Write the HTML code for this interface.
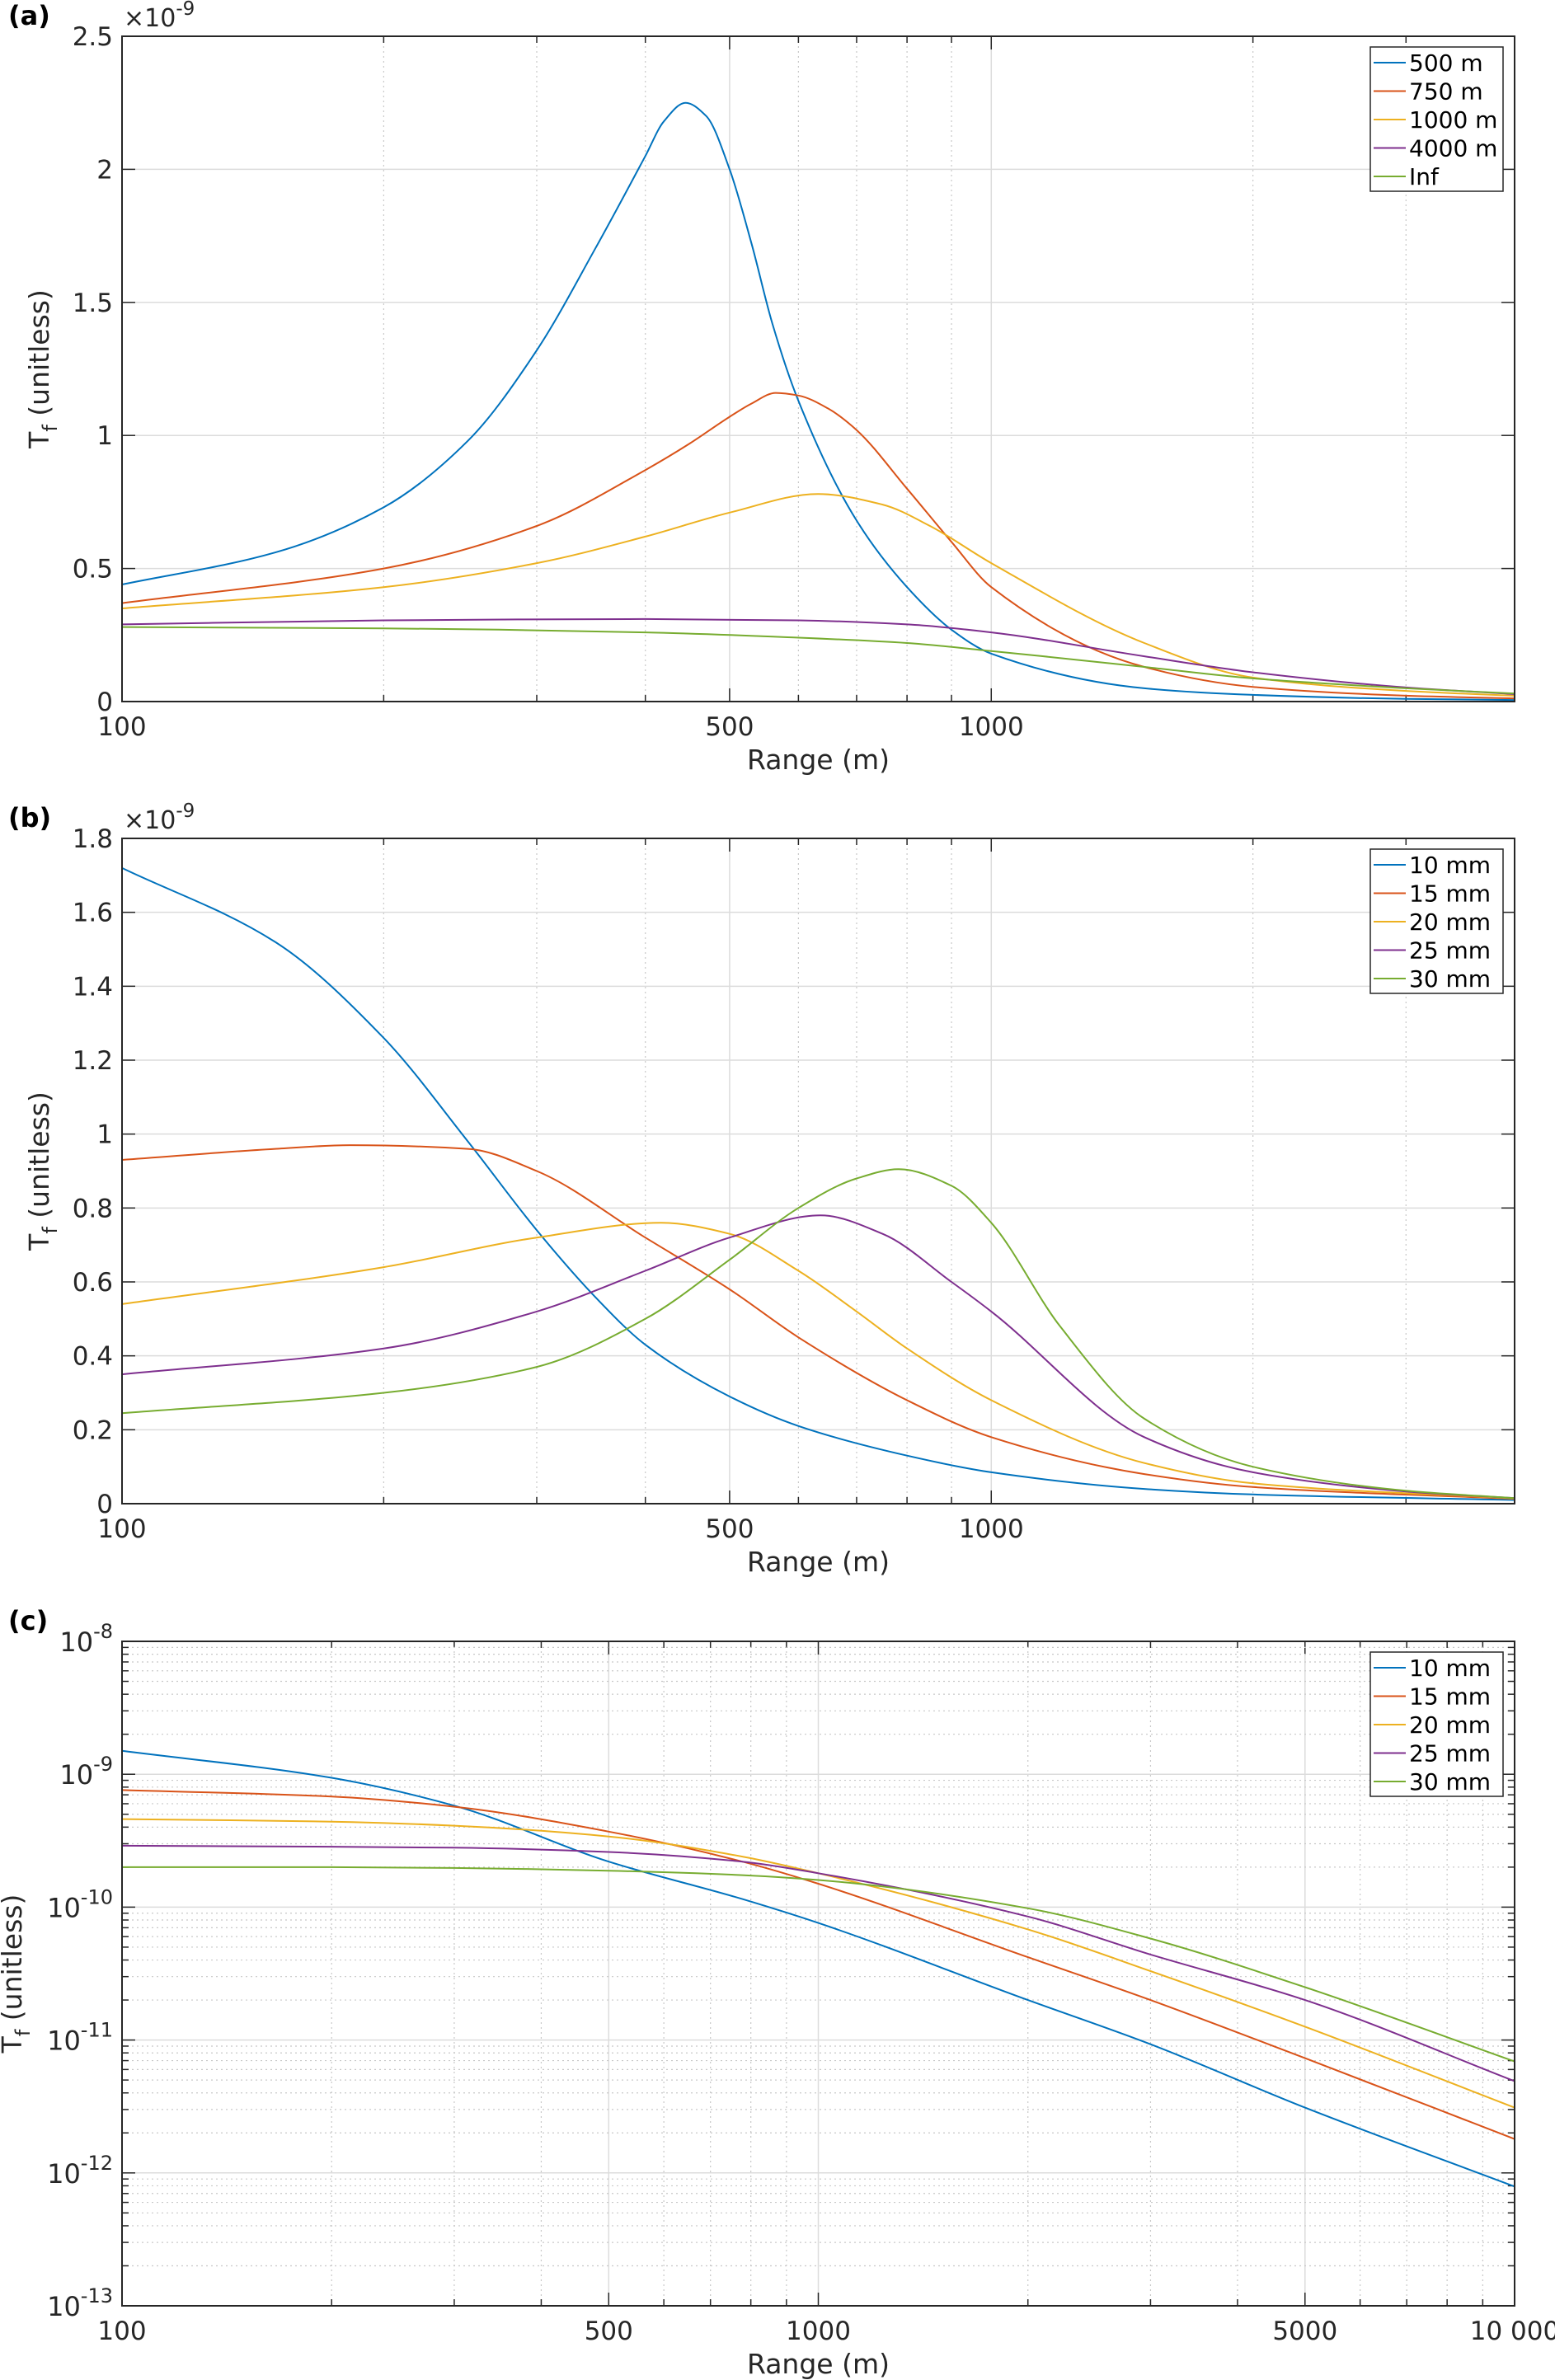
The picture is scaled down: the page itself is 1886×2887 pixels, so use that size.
<!DOCTYPE html>
<html><head><meta charset="utf-8"><style>
html,body{margin:0;padding:0;background:#fff;}
svg{display:block;font-family:"DejaVu Sans","Liberation Sans",sans-serif;}
</style></head><body>
<svg id="fig" width="1886" height="2887" viewBox="0 0 1886 2887" xmlns="http://www.w3.org/2000/svg"></svg>
<script>
// ---------- data ----------
const aRanges500=[100,150,200,250,300,350,400,420,445,470,500,530,560,600,700,800,900,1000,1500,2000,3000,4000];
const aVals500=[0.44,0.56,0.73,0.98,1.32,1.70,2.05,2.18,2.25,2.2,2.0,1.72,1.42,1.13,0.68,0.43,0.27,0.18,0.05,0.025,0.01,0.006];
const aRanges750=[100,200,300,400,450,500,530,565,600,650,700,800,900,1000,1500,2000,3000,4000];
const aVals750=[0.37,0.5,0.66,0.87,0.97,1.07,1.12,1.16,1.15,1.1,1.02,0.8,0.6,0.43,0.13,0.055,0.022,0.012];
const aRanges1000=[100,200,300,400,500,632,750,850,1000,1500,2000,3000,4000];
const aVals1000=[0.35,0.43,0.52,0.62,0.71,0.78,0.74,0.66,0.52,0.22,0.09,0.04,0.022];
const aRanges4000=[100,200,400,600,800,1000,1500,2000,3000,4000];
const aVals4000=[0.29,0.305,0.31,0.305,0.29,0.26,0.17,0.11,0.053,0.028];
const aRangesInf=[100,200,400,600,800,1000,1500,2000,3000,4000];
const aValsInf=[0.28,0.275,0.26,0.24,0.22,0.19,0.13,0.087,0.05,0.03];

const bRanges10=[100,150,200,250,300,350,400,500,600,800,1000,1500,2000,4000];
const bVals10=[1.72,1.52,1.26,0.98,0.74,0.56,0.43,0.29,0.21,0.13,0.085,0.04,0.025,0.01];
const bRanges15=[100,150,183,250,300,400,500,600,800,1000,1500,2000,4000];
const bVals15=[0.93,0.96,0.97,0.96,0.9,0.72,0.58,0.45,0.28,0.18,0.08,0.045,0.013];
const bRanges20=[100,200,300,417,500,600,700,800,1000,1500,2000,4000];
const bVals20=[0.54,0.64,0.72,0.76,0.73,0.63,0.52,0.42,0.28,0.11,0.055,0.014];
const bRanges25=[100,200,300,400,500,636,750,900,1000,1500,2000,3000,4000];
const bVals25=[0.35,0.42,0.52,0.63,0.72,0.78,0.73,0.6,0.52,0.18,0.085,0.033,0.015];
const bRanges30=[100,200,300,400,500,600,700,782,900,1000,1200,1500,2000,3000,4000];
const bVals30=[0.245,0.3,0.37,0.5,0.66,0.8,0.88,0.905,0.86,0.76,0.48,0.23,0.1,0.035,0.015];

const cRanges=[100,200,300,500,778,1000,2000,3000,5000,10000];
const cVals10=[1.5e-9,9.4e-10,5.8e-10,2.2e-10,1.15e-10,7.6e-11,2.0e-11,9.3e-12,3.1e-12,7.9e-13];
const cVals15=[7.6e-10,6.8e-10,5.7e-10,3.7e-10,2.2e-10,1.5e-10,4.2e-11,2.0e-11,7.3e-12,1.8e-12];
const cVals20=[4.6e-10,4.4e-10,4.1e-10,3.4e-10,2.4e-10,1.8e-10,6.8e-11,3.3e-11,1.26e-11,3.1e-12];
const cVals25=[2.9e-10,2.85e-10,2.8e-10,2.6e-10,2.2e-10,1.8e-10,8.5e-11,4.4e-11,2.0e-11,4.9e-12];
const cVals30=[2.0e-10,2.0e-10,1.97e-10,1.88e-10,1.74e-10,1.6e-10,9.8e-11,5.8e-11,2.5e-11,6.9e-12];

const legendA=["500 m","750 m","1000 m","4000 m","Inf"];
const legendBC=["10 mm","15 mm","20 mm","25 mm","30 mm"];
const aYTicks=[0,0.5,1,1.5,2,2.5];
const aYTickLabels=["0","0.5","1","1.5","2","2.5"];
const bYTicks=[0,0.2,0.4,0.6,0.8,1,1.2,1.4,1.6,1.8];
const bYTickLabels=["0","0.2","0.4","0.6","0.8","1","1.2","1.4","1.6","1.8"];
const abXTicks=[100,500,1000];
const abXTickLabels=["100","500","1000"];
const cXTicks=[100,500,1000,5000,10000];
const cXTickLabels=["100","500","1000","5000","10 000"];
const cYExps=[-13,-12,-11,-10,-9,-8];

const COLORS=["#0072BD","#D95319","#EDB120","#7E2F8E","#77AC30"];
const NS="http://www.w3.org/2000/svg";
const svg=document.getElementById('fig');
function el(tag,attrs,parent,text){const e=document.createElementNS(NS,tag);for(const k in attrs)e.setAttribute(k,attrs[k]);if(text!==undefined)e.textContent=text;(parent||svg).appendChild(e);return e;}

function monoPath(pts){
  const n=pts.length,dx=[],m=[],t=new Array(n);
  for(let i=0;i<n-1;i++){dx.push(pts[i+1][0]-pts[i][0]);m.push((pts[i+1][1]-pts[i][1])/dx[i]);}
  t[0]=m[0];t[n-1]=m[n-2];
  for(let i=1;i<n-1;i++){ if(m[i-1]*m[i]<=0)t[i]=0; else { const w1=2*dx[i]+dx[i-1],w2=dx[i]+2*dx[i-1]; t[i]=(w1+w2)/(w1/m[i-1]+w2/m[i]); } }
  let d='M'+pts[0][0].toFixed(1)+','+pts[0][1].toFixed(1);
  for(let i=0;i<n-1;i++){const h=dx[i]/3;
    d+=`C${(pts[i][0]+h).toFixed(1)},${(pts[i][1]+t[i]*h).toFixed(1)} ${(pts[i+1][0]-h).toFixed(1)},${(pts[i+1][1]-t[i+1]*h).toFixed(1)} ${pts[i+1][0].toFixed(1)},${pts[i+1][1].toFixed(1)}`;}
  return d;
}

const L=148,R=1837;
function panel(cfg){
  const g=el('g',{});
  
  
  const T=cfg.top,B=cfg.bottom;
  const lx0=Math.log10(cfg.xmin),lx1=Math.log10(cfg.xmax);
  const X=v=>L+(Math.log10(v)-lx0)/(lx1-lx0)*(R-L);
  const Y=cfg.ylog?(v=>B-(Math.log10(v)-cfg.ymin)/(cfg.ymax-cfg.ymin)*(B-T)):(v=>B-(v-cfg.ymin)/(cfg.ymax-cfg.ymin)*(B-T));
  const d0=Math.floor(lx0),d1=Math.ceil(lx1);
  for(let d=d0;d<d1;d++)for(let m=1;m<10;m++){const v=m*Math.pow(10,d);if(v<cfg.xmin||v>cfg.xmax)continue;const x=X(v);
    const major=cfg.xticks.includes(v);
    if(v!==cfg.xmin&&v!==cfg.xmax){
      const gl=el('line',{x1:x,x2:x,y1:T,y2:B,stroke:major?'#dcdcdc':'#c8c8c8','stroke-width':major?1.5:1.2,'stroke-dasharray':major?'':'2 4'},g);
      }
    const tl=major?16:8;
    el('line',{x1:x,x2:x,y1:B,y2:B-tl,stroke:'#262626','stroke-width':1.5},g);
    el('line',{x1:x,x2:x,y1:T,y2:T+tl,stroke:'#262626','stroke-width':1.5},g);
  }
  if(cfg.ylog){
    for(let e=cfg.ymin;e<cfg.ymax;e++)for(let m=1;m<10;m++){const y=Y(m*Math.pow(10,e));
      if(m>1){el('line',{x1:L,x2:R,y1:y,y2:y,stroke:'#c8c8c8','stroke-width':1.2,'stroke-dasharray':'2 4'},g);
        el('line',{x1:L,x2:L+8,y1:y,y2:y,stroke:'#262626','stroke-width':1.5},g);el('line',{x1:R,x2:R-8,y1:y,y2:y,stroke:'#262626','stroke-width':1.5},g);}}
    cfg.yexps.forEach(e=>{const y=Y(Math.pow(10,e));
      if(e>cfg.ymin&&e<cfg.ymax){const gl=el('line',{x1:L,x2:R,y1:y,y2:y,stroke:'#dcdcdc','stroke-width':1.5},g);}
      el('line',{x1:L,x2:L+16,y1:y,y2:y,stroke:'#262626','stroke-width':1.5},g);el('line',{x1:R,x2:R-16,y1:y,y2:y,stroke:'#262626','stroke-width':1.5},g);
      const t=el('text',{x:137,y:y+12,'text-anchor':'end','font-size':32,fill:'#262626'},g);
      
      el('tspan',{},t,'10');el('tspan',{dy:-16,'font-size':24},t,String(e));
    });
  } else {
    cfg.yticks.forEach((v,i)=>{const y=Y(v);
      if(v>cfg.ymin&&v<cfg.ymax){const gl=el('line',{x1:L,x2:R,y1:y,y2:y,stroke:'#dcdcdc','stroke-width':1.5},g);}
      el('line',{x1:L,x2:L+16,y1:y,y2:y,stroke:'#262626','stroke-width':1.5},g);el('line',{x1:R,x2:R-16,y1:y,y2:y,stroke:'#262626','stroke-width':1.5},g);
      const t=el('text',{x:137,y:y+11,'text-anchor':'end','font-size':31,fill:'#262626'},g,cfg.ylabels[i]);
      
    });
    const ex=el('text',{x:150,y:T-12,'font-size':30,fill:'#262626'},g);
    
    el('tspan',{},ex,'×10');el('tspan',{dy:-14,'font-size':23},ex,'-9');
  }
  cfg.series.forEach((s,i)=>{
    const pts=s.r.map((r,k)=>[X(r),Y(s.v[k])]);
    const p=el('path',{d:monoPath(pts),fill:'none',stroke:COLORS[i],'stroke-width':2},g);
    
    
  });
  const box=el('rect',{x:L,y:T,width:R-L,height:B-T,fill:'none',stroke:'#262626','stroke-width':2},g);
  
  cfg.xticks.forEach((v,i)=>{const t=el('text',{x:X(v),y:B+41,'text-anchor':'middle','font-size':31,fill:'#262626'},g,cfg.xlabels[i]);
    });
  const xt=el('text',{x:(L+R)/2,y:B+82,'text-anchor':'middle','font-size':33,fill:'#262626'},g,'Range (m)');
  
  const cy=(T+B)/2;
  const yt=el('text',{x:0,y:0,'text-anchor':'middle','font-size':33,fill:'#262626',transform:`translate(${cfg.ytx},${cy}) rotate(-90)`},g);
  
  el('tspan',{},yt,'T');el('tspan',{dy:10,'font-size':24},yt,'f');el('tspan',{dy:-10},yt,' (unitless)');
  const pl=el('text',{x:10,y:T-14,'font-size':32,'font-weight':'bold',fill:'#000'},g,cfg.letter);
  
  const lg=el('g',{},g);
  const lt=T+13;
  el('rect',{x:1662,y:lt,width:161,height:175,fill:'#fff',stroke:'#262626','stroke-width':1.5},lg);
  cfg.legend.forEach((n,i)=>{const y=lt+19+i*34.5;
    const e=el('g',{},lg);
    el('line',{x1:1666,x2:1705,y1:y,y2:y,stroke:COLORS[i],'stroke-width':2},e);
    el('text',{x:1709,y:y+10,'font-size':28,fill:'#000'},e,n);});
}
panel({name:'panel-a',letter:'(a)',top:44,bottom:851,xmin:100,xmax:4000,ymin:0,ymax:2.5,yticks:aYTicks,ylabels:aYTickLabels,
  xticks:abXTicks,xlabels:abXTickLabels,legend:legendA,ytx:59,
  series:[{r:aRanges500,v:aVals500},{r:aRanges750,v:aVals750},{r:aRanges1000,v:aVals1000},{r:aRanges4000,v:aVals4000},{r:aRangesInf,v:aValsInf}]});
panel({name:'panel-b',letter:'(b)',top:1017,bottom:1824,xmin:100,xmax:4000,ymin:0,ymax:1.8,yticks:bYTicks,ylabels:bYTickLabels,
  xticks:abXTicks,xlabels:abXTickLabels,legend:legendBC,ytx:59,
  series:[{r:bRanges10,v:bVals10},{r:bRanges15,v:bVals15},{r:bRanges20,v:bVals20},{r:bRanges25,v:bVals25},{r:bRanges30,v:bVals30}]});
panel({name:'panel-c',letter:'(c)',top:1991,bottom:2797,xmin:100,xmax:10000,ylog:true,ymin:-13,ymax:-8,yexps:cYExps,
  xticks:cXTicks,xlabels:cXTickLabels,legend:legendBC,ytx:26,
  series:[{r:cRanges,v:cVals10},{r:cRanges,v:cVals15},{r:cRanges,v:cVals20},{r:cRanges,v:cVals25},{r:cRanges,v:cVals30}]});
</script>
</body></html>
